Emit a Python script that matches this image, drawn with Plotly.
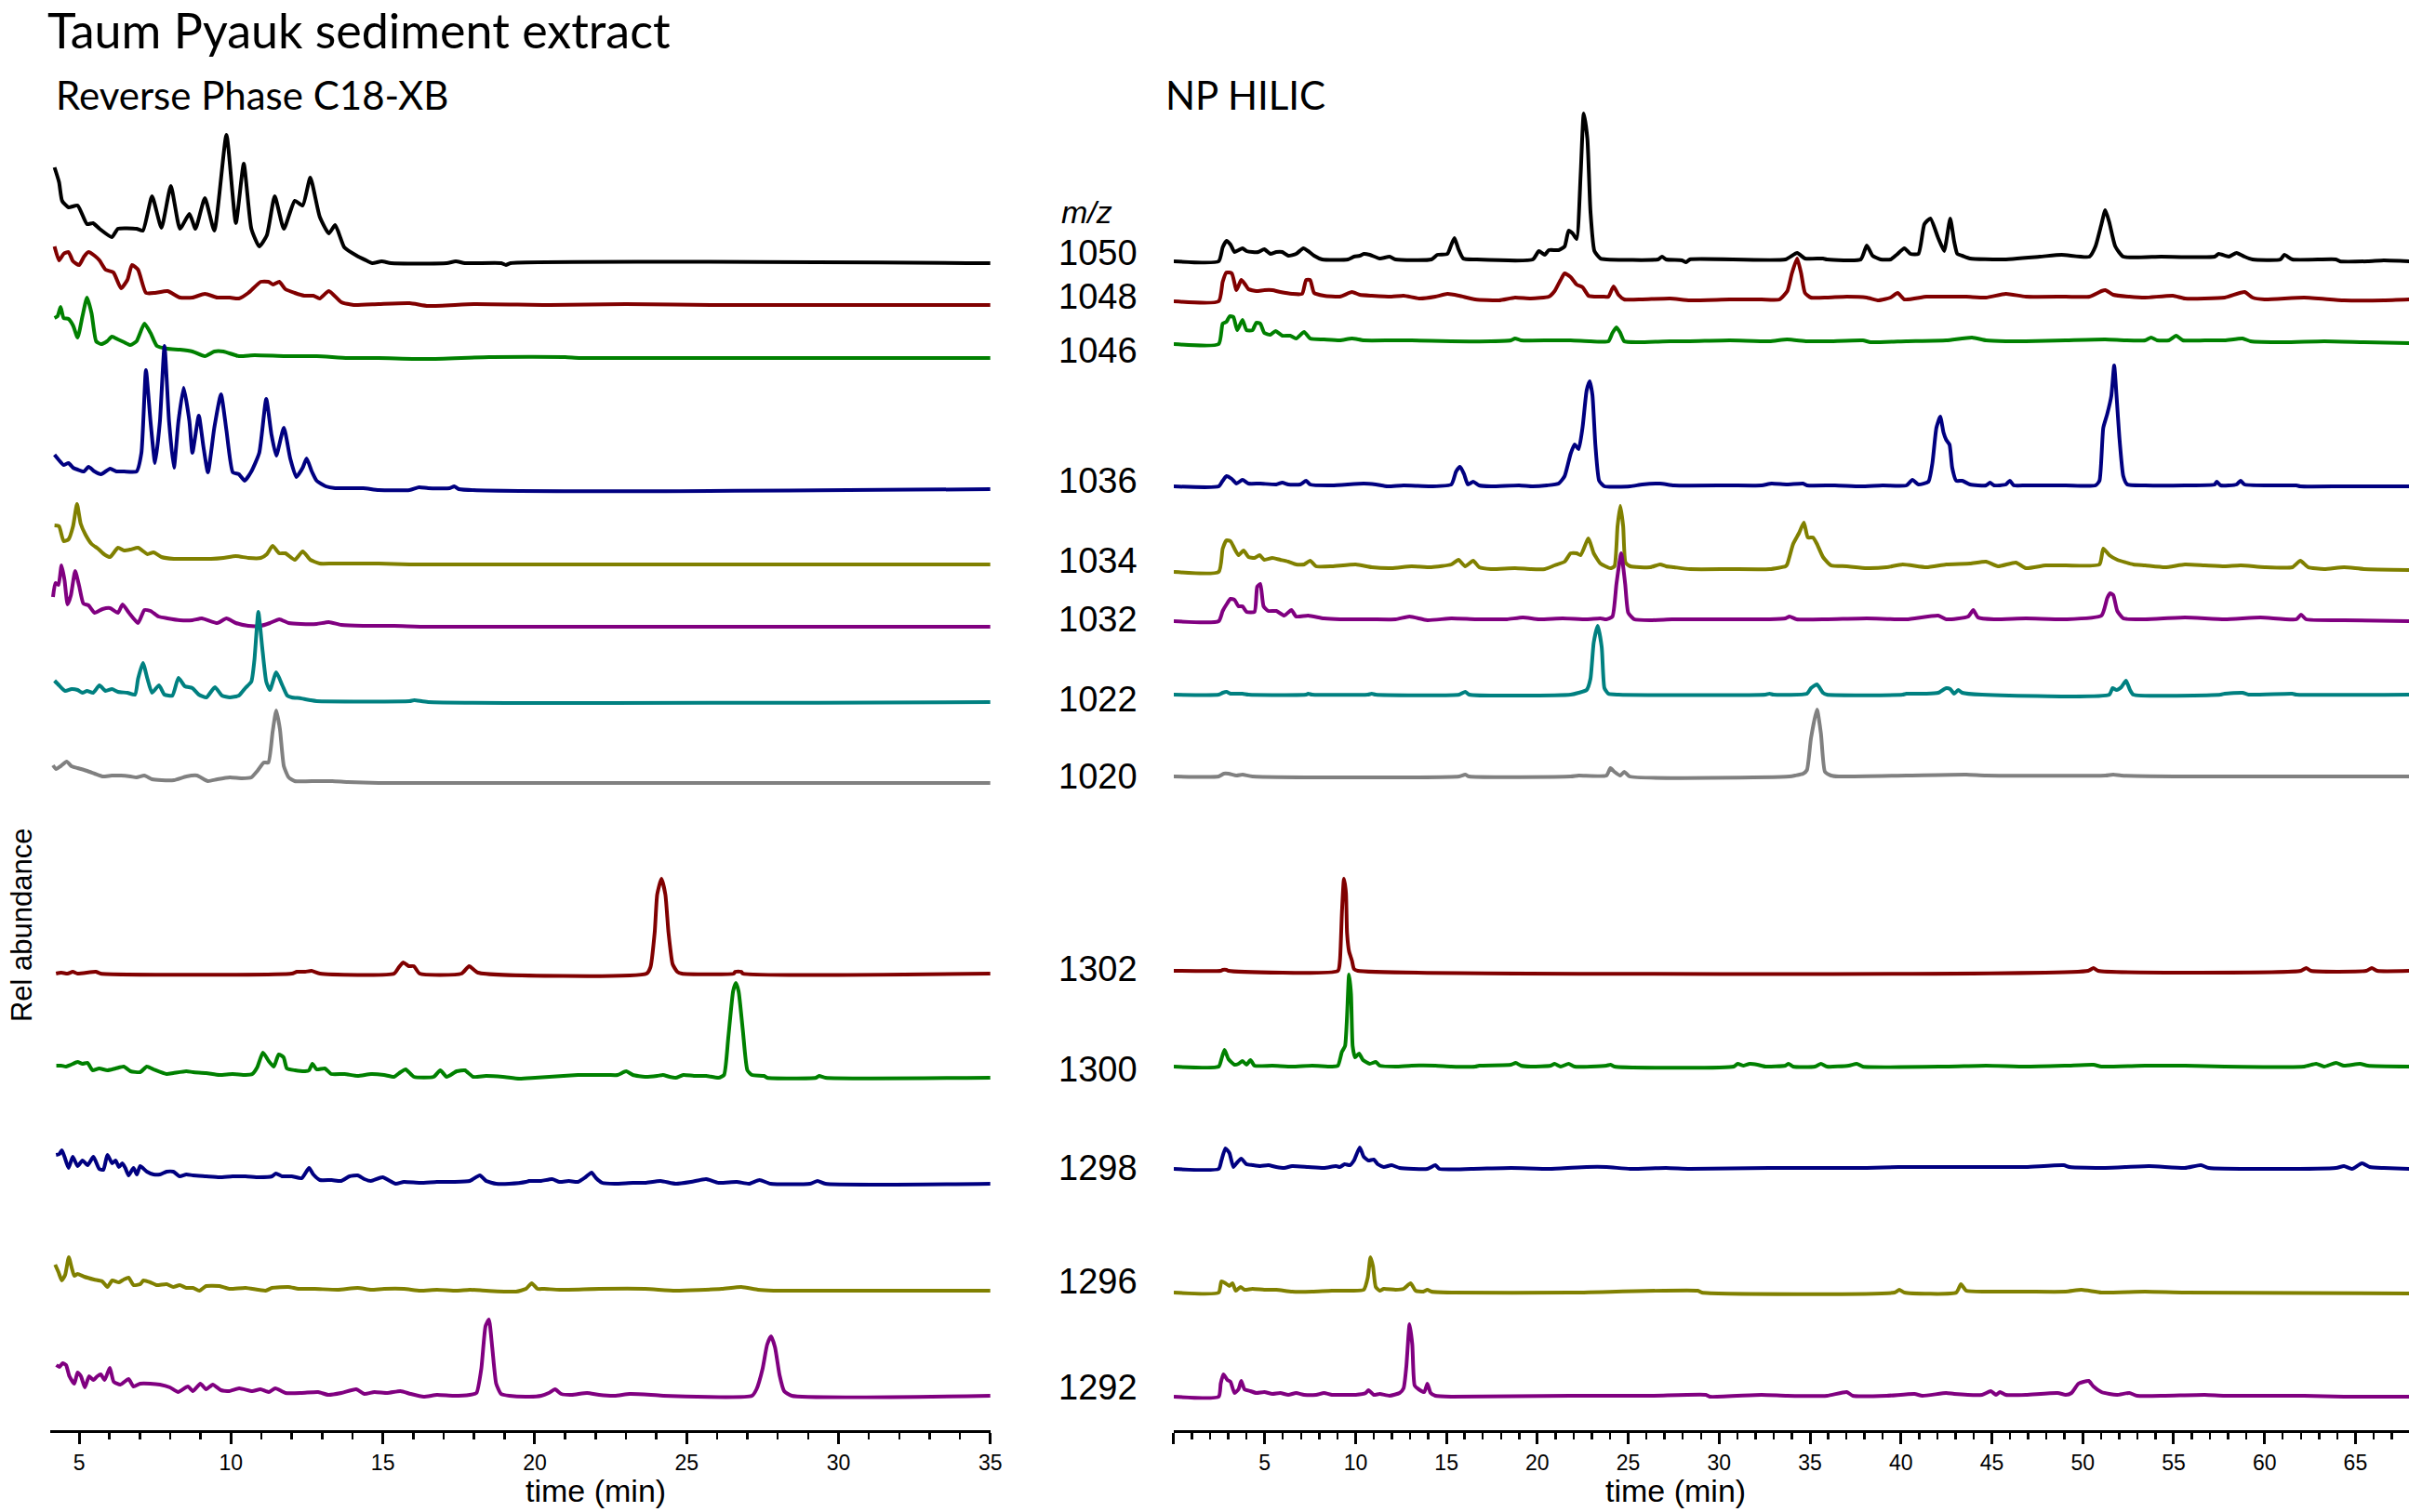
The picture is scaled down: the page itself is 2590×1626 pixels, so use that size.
import plotly.graph_objects as go

# ---------------- data: (time [min], intensity) ----------------
RP_1050 = [(4.19,103),(4.34,87),(4.44,67),(4.65,60),(4.95,62),(5.26,42),(5.46,43),(5.67,37),(6.08,28),(6.28,37),(6.89,37),(7.10,35),(7.40,72),(7.71,38),(8.02,83),(8.32,37),(8.63,53),(8.83,37),(9.14,70),(9.45,35),(9.85,138),(10.16,43),(10.42,107),(10.67,37),(10.93,18),(11.18,30),(11.44,72),(11.74,37),(12.10,67),(12.36,62),(12.61,92),(12.92,50),(13.22,32),(13.43,41),(13.73,17),(14.14,8),(14.45,3),(14.65,0),(14.96,2),(15.27,0),(17.1,0),(17.4,2),(17.7,0),(18.9,0),(19.05,-2),(19.2,0),(35.0,0)]
RP_1048 = [(4.19,63),(4.34,48),(4.49,55),(4.65,57),(4.80,47),(5.00,43),(5.16,52),(5.31,57),(5.51,53),(5.67,48),(5.87,38),(6.13,35),(6.38,18),(6.59,27),(6.74,43),(6.94,38),(7.20,13),(7.50,13),(7.91,15),(8.32,8),(8.73,8),(9.14,12),(9.55,8),(9.96,8),(10.26,7),(10.57,13),(10.98,25),(11.23,25),(11.39,22),(11.59,25),(11.79,17),(12.10,13),(12.41,10),(12.71,10),(12.92,7),(13.22,15),(13.63,3),(14.04,0),(14.86,1),(15.88,2),(16.49,-1),(18.0,1),(20.5,0),(23.0,1),(26.0,0),(35.0,0)]
RP_1046 = [(4.19,43),(4.29,45),(4.39,55),(4.49,43),(4.65,42),(4.80,35),(4.95,22),(5.11,45),(5.26,65),(5.41,48),(5.56,18),(5.72,15),(5.92,18),(6.08,23),(6.28,20),(6.48,17),(6.69,14),(6.89,18),(7.15,37),(7.35,27),(7.56,13),(7.91,10),(8.32,9),(8.73,7),(9.14,2),(9.45,7),(9.75,7),(10.26,2),(10.77,3),(11.79,2),(12.82,2),(13.84,0),(14.86,0),(16.49,-1),(18.5,1),(21.0,1),(21.5,0),(35.0,0)]
RP_1036 = [(4.19,37),(4.34,31),(4.49,26),(4.65,28),(4.80,23),(4.95,21),(5.16,19),(5.31,24),(5.51,19),(5.72,16),(6.02,22),(6.23,19),(6.48,19),(6.89,19),(7.05,39),(7.20,128),(7.35,73),(7.50,28),(7.66,73),(7.81,154),(7.96,73),(8.12,23),(8.27,73),(8.44,109),(8.63,73),(8.73,39),(8.94,79),(9.09,46),(9.24,18),(9.45,66),(9.67,102),(9.85,63),(10.06,18),(10.26,16),(10.45,9),(10.67,19),(10.93,39),(11.16,97),(11.33,59),(11.49,36),(11.74,66),(11.95,33),(12.15,13),(12.36,23),(12.49,33),(12.66,19),(12.82,9),(13.12,3),(13.43,1),(14.35,1),(14.86,-1),(15.88,-1),(16.19,2),(16.49,1),(17.2,1),(17.35,3),(17.5,0),(35.0,0)]
RP_1034 = [(4.19,42),(4.34,41),(4.49,25),(4.65,27),(4.80,41),(4.93,65),(5.05,44),(5.21,32),(5.41,22),(5.62,17),(5.82,11),(6.02,8),(6.28,18),(6.48,15),(6.69,16),(6.94,18),(7.25,11),(7.45,13),(7.71,8),(8.12,6),(8.53,6),(8.94,6),(9.34,6),(9.75,7),(10.16,9),(10.57,7),(10.98,7),(11.18,11),(11.37,20),(11.59,12),(11.79,12),(12.10,5),(12.36,14),(12.61,5),(12.92,1),(13.33,1),(13.84,1),(14.86,1),(15.88,0),(16.49,0),(35.0,0)]
RP_1032 = [(4.14,31),(4.22,46),(4.32,44),(4.42,65),(4.52,49),(4.62,23),(4.73,33),(4.87,59),(5.00,43),(5.14,24),(5.31,22),(5.51,14),(5.77,18),(6.02,19),(6.28,14),(6.43,23),(6.64,14),(6.94,3),(7.15,17),(7.35,16),(7.61,10),(7.91,8),(8.32,6),(8.73,6),(9.04,8),(9.55,3),(9.85,8),(10.16,3),(10.57,0),(10.98,0),(11.28,3),(11.59,7),(11.90,3),(12.30,2),(12.82,2),(13.22,4),(13.63,1),(14.35,0),(15.37,0),(16.49,-1),(35.0,-1)]
RP_1022 = [(4.19,22),(4.34,17),(4.54,11),(4.75,13),(4.95,12),(5.11,9),(5.26,11),(5.46,9),(5.67,17),(5.87,11),(6.08,13),(6.28,10),(6.59,9),(6.84,7),(6.94,24),(7.10,41),(7.25,24),(7.40,9),(7.63,17),(7.81,7),(8.07,6),(8.27,25),(8.48,16),(8.73,14),(8.94,7),(9.19,4),(9.47,15),(9.70,6),(9.96,4),(10.26,6),(10.47,14),(10.67,21),(10.77,44),(10.90,96),(11.03,57),(11.16,21),(11.28,12),(11.49,31),(11.69,17),(11.85,6),(12.00,4),(12.30,3),(12.61,1),(12.82,0),(15.88,0),(16.03,1),(16.49,-1),(35.0,-1)]
RP_1020 = [(4.14,18),(4.24,14),(4.39,17),(4.59,22),(4.75,17),(4.95,15),(5.26,12),(5.51,9),(5.77,6),(6.08,7),(6.38,7),(6.69,6),(6.89,5),(7.15,7),(7.40,3),(7.71,2),(8.12,2),(8.53,6),(8.88,7),(9.24,1),(9.55,3),(9.96,5),(10.36,4),(10.67,5),(10.87,12),(11.08,21),(11.23,21),(11.37,54),(11.49,77),(11.61,57),(11.74,17),(11.90,5),(12.10,1),(12.82,1),(13.33,1),(13.84,0),(14.86,-1),(35.0,-1)]
RP_1302 = [(4.24,0),(4.41,1),(4.62,0),(4.79,2),(4.95,0),(5.55,2),(5.71,0),(12.0,0),(12.17,2),(12.44,2),(12.65,3),(12.93,0),(15.37,0),(15.53,7),(15.67,12),(15.85,8),(16.02,8),(16.21,0),(17.59,0),(17.84,8),(18.13,1),(23.68,0),(23.81,7),(23.95,45),(24.03,85),(24.17,102),(24.30,85),(24.40,45),(24.54,10),(24.69,2),(24.84,0),(26.55,0),(26.60,2),(26.80,2),(26.85,0),(35.0,0)]
RP_1300 = [(4.25,13),(4.41,13),(4.57,12),(4.73,14),(4.95,17),(5.11,15),(5.28,16),(5.44,8),(5.66,10),(5.93,8),(6.20,10),(6.47,12),(6.69,7),(7.01,6),(7.23,12),(7.45,9),(7.88,4),(8.10,5),(8.53,7),(8.75,6),(9.18,5),(9.62,3),(10.05,4),(10.48,3),(10.70,4),(10.86,11),(11.05,27),(11.24,18),(11.41,12),(11.57,25),(11.73,22),(11.84,10),(12.11,8),(12.44,7),(12.57,8),(12.68,15),(12.82,9),(13.09,10),(13.30,4),(13.74,4),(14.17,2),(14.61,4),(15.04,3),(15.37,1),(15.58,6),(15.75,9),(16.02,1),(16.67,1),(16.89,8),(17.10,1),(17.43,7),(17.70,8),(17.97,1),(18.40,2),(18.95,1),(19.49,-1),(20.01,0),(21.42,3),(21.62,3),(22.02,3),(22.43,3),(22.73,3),(23.01,7),(23.23,3),(23.63,1),(24.03,2),(24.22,3),(24.44,1),(24.64,0),(24.89,3),(25.24,2),(25.64,2),(26.05,0),(26.23,3),(26.37,43),(26.53,93),(26.62,102),(26.71,93),(26.85,51),(27.00,8),(27.15,3),(27.55,2),(27.65,0),(29.26,0),(29.36,2),(29.57,0),(35.0,0)]
RP_1298 = [(4.24,31),(4.35,32),(4.43,36),(4.52,29),(4.65,17),(4.79,29),(4.95,19),(5.11,25),(5.28,20),(5.47,29),(5.66,16),(5.80,15),(5.93,31),(6.09,22),(6.20,25),(6.31,18),(6.42,22),(6.52,17),(6.63,9),(6.79,17),(6.90,10),(7.01,19),(7.23,13),(7.45,10),(7.66,10),(7.88,13),(8.10,13),(8.31,8),(8.53,10),(8.75,9),(9.18,8),(9.62,7),(10.05,8),(10.48,8),(10.92,7),(11.35,8),(11.48,11),(11.68,8),(12.00,8),(12.33,6),(12.57,17),(12.71,10),(12.93,4),(13.31,4),(13.63,3),(13.90,8),(14.17,9),(14.39,5),(14.61,3),(14.99,7),(15.42,0),(15.69,2),(16.23,1),(16.78,2),(17.32,2),(17.86,3),(18.19,9),(18.40,3),(18.73,0),(19.16,0),(19.71,2),(19.81,3),(20.21,3),(20.57,5),(20.82,2),(21.12,3),(21.42,2),(21.67,7),(21.87,12),(22.02,6),(22.22,1),(22.63,0),(23.23,1),(23.63,1),(24.14,3),(24.64,0),(25.14,2),(25.64,5),(26.05,1),(26.65,2),(27.05,0),(27.40,4),(27.76,0),(29.06,0),(29.31,3),(29.57,0),(35.0,0)]
RP_1296 = [(4.21,28),(4.32,20),(4.43,11),(4.54,17),(4.66,36),(4.76,24),(4.84,16),(4.95,18),(5.17,15),(5.49,12),(5.76,10),(5.93,4),(6.09,11),(6.31,9),(6.47,12),(6.63,14),(6.79,6),(7.01,7),(7.12,11),(7.34,9),(7.55,6),(7.88,7),(8.10,4),(8.31,6),(8.53,3),(8.75,3),(8.96,0),(9.18,5),(9.62,5),(9.94,2),(10.48,3),(11.14,0),(11.35,3),(11.89,4),(12.22,2),(12.76,2),(13.52,1),(14.17,3),(14.61,1),(15.04,2),(15.69,2),(16.23,0),(16.78,1),(17.43,0),(17.86,1),(18.40,0),(19.38,-1),(19.71,2),(19.90,8),(20.09,2),(20.31,2),(20.82,1),(22.12,2),(23.63,2),(24.64,0),(26.15,2),(26.80,4),(27.35,1),(27.86,0),(35.0,0)]
RP_1292 = [(4.25,33),(4.35,31),(4.46,35),(4.57,33),(4.68,21),(4.84,13),(4.95,25),(5.06,21),(5.19,9),(5.33,21),(5.47,17),(5.60,21),(5.71,23),(5.84,17),(6.01,30),(6.14,15),(6.36,12),(6.63,18),(6.79,10),(7.01,13),(7.34,13),(7.66,12),(7.99,9),(8.26,4),(8.58,10),(8.75,5),(8.99,13),(9.18,7),(9.40,12),(9.67,6),(9.94,5),(10.27,8),(10.70,5),(10.97,7),(11.24,4),(11.46,8),(11.79,3),(12.33,3),(12.87,4),(13.20,1),(13.63,3),(14.12,7),(14.39,2),(14.72,4),(15.15,3),(15.58,5),(15.91,2),(16.34,-1),(16.78,1),(17.32,0),(17.86,1),(18.08,3),(18.24,29),(18.38,75),(18.49,82),(18.60,52),(18.73,13),(18.89,2),(19.16,0),(19.81,-1),(20.21,0),(20.46,3),(20.67,7),(20.87,2),(21.22,1),(21.72,3),(22.12,1),(22.63,0),(23.13,2),(23.83,1),(24.24,0),(27.15,0),(27.30,7),(27.50,29),(27.65,55),(27.78,64),(27.91,52),(28.06,22),(28.21,5),(28.46,0),(35.0,0)]

NP_1050 = [(0,-2),(2.47,-2),(2.69,13),(2.90,20),(3.12,16),(3.34,8),(3.56,10),(3.78,12),(4.00,9),(4.33,8),(4.65,8),(4.98,11),(5.31,6),(5.64,8),(5.97,8),(6.30,4),(6.73,6),(7.13,12),(7.39,9),(7.72,4),(8.16,0),(9.58,0),(9.91,3),(10.23,4),(10.45,6),(10.78,5),(11.33,1),(11.87,3),(12.20,0),(14.17,0),(14.50,5),(15.05,6),(15.27,16),(15.44,23),(15.66,11),(15.92,1),(16.58,0),(19.75,0),(20.08,9),(20.41,5),(20.63,10),(21.17,10),(21.50,14),(21.72,31),(21.94,28),(22.16,22),(22.38,91),(22.55,157),(22.75,130),(22.92,52),(23.14,9),(23.47,1),(23.80,0),(26.64,0),(26.86,3),(27.08,0),(27.96,-1),(28.18,-3),(28.39,0),(33.65,0),(34.29,7),(34.72,1),(35.71,1),(35.93,0),(37.79,0),(38.12,15),(38.44,4),(38.88,0),(39.43,0),(39.76,5),(40.19,12),(40.52,6),(40.96,6),(41.29,38),(41.62,44),(42.05,23),(42.38,9),(42.49,19),(42.71,44),(42.93,19),(43.10,6),(43.37,4),(43.80,1),(45.56,0),(47.63,3),(48.84,5),(50.37,3),(50.70,14),(51.03,38),(51.24,53),(51.46,40),(51.79,14),(52.23,3),(54.31,3),(57.26,3),(57.48,6),(58.03,3),(58.46,7),(58.90,3),(59.34,0),(60.87,0),(61.09,5),(61.53,0),(63.93,0),(64.15,-2),(65.68,-2),(66.56,-1),(68.05,-2)]
NP_1048 = [(0,0),(2.47,0),(2.69,21),(2.90,31),(3.19,30),(3.45,12),(3.71,23),(3.93,18),(4.11,13),(4.54,11),(4.98,12),(5.42,12),(5.86,10),(6.51,8),(7.06,8),(7.28,23),(7.50,23),(7.72,9),(8.26,6),(9.14,5),(9.80,10),(10.23,7),(10.89,6),(11.98,5),(12.64,6),(13.52,3),(14.39,5),(15.05,8),(15.70,6),(16.58,2),(17.89,1),(18.77,4),(19.64,3),(20.63,5),(20.95,11),(21.28,23),(21.50,30),(21.83,26),(22.16,18),(22.49,15),(22.81,6),(23.14,5),(23.58,5),(23.91,5),(24.19,16),(24.46,7),(24.78,2),(25.77,2),(27.30,3),(28.39,1),(30.58,2),(32.33,2),(33.32,2),(33.75,11),(34.00,30),(34.29,46),(34.51,30),(34.72,9),(35.05,4),(35.93,4),(37.02,5),(38.12,4),(38.77,1),(39.43,4),(39.82,9),(40.19,2),(41.40,5),(42.49,5),(43.59,5),(44.68,4),(45.77,8),(46.87,5),(49.06,5),(50.37,5),(51.03,11),(51.24,12),(51.68,7),(52.56,5),(53.43,4),(54.96,6),(55.62,3),(57.81,4),(58.90,10),(59.34,4),(60.00,2),(62.18,4),(64.37,1),(66.56,1),(68.05,2)]
NP_1046 = [(0,0),(2.47,0),(2.69,22),(2.90,24),(3.08,30),(3.28,29),(3.49,15),(3.78,26),(4.00,15),(4.33,15),(4.54,23),(4.76,22),(4.98,12),(5.31,10),(5.60,14),(5.97,9),(6.40,9),(6.73,6),(7.17,13),(7.50,6),(8.26,5),(9.14,4),(9.80,6),(10.45,4),(11.98,4),(13.08,4),(15.27,3),(17.45,3),(18.55,4),(18.77,6),(19.10,4),(20.74,4),(21.83,4),(22.92,3),(23.91,3),(24.13,12),(24.35,18),(24.56,12),(24.78,3),(25.55,2),(27.30,3),(28.39,3),(30.58,4),(32.77,3),(33.74,5),(34.83,3),(35.93,3),(37.90,4),(38.33,2),(40.30,3),(42.49,4),(43.91,7),(44.68,4),(45.77,3),(46.87,3),(49.06,4),(51.24,5),(52.34,4),(53.43,4),(53.76,7),(54.09,4),(54.74,4),(55.14,9),(55.51,4),(56.71,4),(57.81,4),(58.79,6),(59.23,3),(61.09,2),(63.28,3),(65.47,2),(68.05,1)]
NP_1036 = [(0,0),(2.47,0),(2.69,6),(2.90,11),(3.19,8),(3.45,3),(3.78,7),(4.11,3),(4.76,3),(5.64,2),(5.97,4),(6.30,2),(6.95,2),(7.28,6),(7.50,2),(8.70,1),(10.45,3),(11.11,2),(11.76,0),(12.64,1),(14.17,0),(15.27,2),(15.53,16),(15.75,21),(15.97,13),(16.18,2),(16.47,5),(16.80,1),(17.45,0),(18.99,1),(19.75,0),(20.52,1),(21.17,3),(21.50,11),(21.83,35),(22.05,45),(22.27,40),(22.49,64),(22.71,103),(22.88,113),(23.03,98),(23.19,45),(23.40,6),(23.69,0),(25.11,0),(25.77,2),(26.75,3),(27.52,1),(30.58,1),(32.33,1),(32.88,3),(33.74,2),(34.62,3),(34.83,1),(36.37,1),(37.79,0),(38.99,1),(40.30,1),(40.63,7),(40.96,2),(41.51,5),(41.73,25),(41.95,63),(42.16,75),(42.34,58),(42.49,50),(42.67,45),(42.82,20),(43.04,6),(43.37,6),(43.80,2),(44.68,1),(44.90,4),(45.12,1),(45.77,2),(45.99,6),(46.21,1),(46.87,1),(49.06,1),(50.70,1),(50.92,6),(51.13,63),(51.35,78),(51.57,97),(51.73,130),(51.86,97),(52.01,54),(52.23,11),(52.45,2),(53.43,1),(55.62,1),(57.26,2),(57.37,5),(57.59,1),(58.46,2),(58.68,6),(58.90,2),(60.21,1),(61.75,1),(61.97,0),(64.37,0),(68.05,0)]
NP_1034 = [(0,0),(2.47,0),(2.69,25),(2.90,34),(3.12,33),(3.34,25),(3.56,18),(3.84,23),(4.11,16),(4.44,15),(4.72,18),(4.98,13),(5.42,15),(5.86,13),(6.30,11),(6.73,8),(7.17,8),(7.50,12),(7.83,6),(8.70,6),(10.01,8),(10.89,5),(11.98,4),(13.08,6),(14.17,5),(15.27,8),(15.66,13),(16.03,6),(16.47,12),(16.80,5),(17.45,3),(18.77,4),(19.64,3),(20.41,3),(20.95,7),(21.50,11),(21.83,20),(22.16,20),(22.38,18),(22.81,36),(23.10,20),(23.47,9),(24.02,4),(24.24,6),(24.41,49),(24.56,71),(24.72,49),(24.85,10),(25.11,6),(26.21,5),(26.75,8),(27.08,6),(27.52,5),(28.39,3),(30.58,3),(32.77,3),(33.65,6),(33.74,8),(34.07,30),(34.40,42),(34.66,53),(34.88,37),(35.16,37),(35.38,30),(35.71,16),(36.15,7),(37.02,6),(38.12,4),(39.21,5),(40.09,8),(41.40,5),(42.49,8),(43.80,9),(44.68,11),(45.34,6),(46.32,10),(46.87,4),(47.96,7),(49.06,7),(50.92,8),(51.13,25),(51.46,18),(51.90,13),(52.78,8),(53.43,7),(54.53,5),(55.62,8),(56.71,7),(57.81,6),(58.69,7),(60.00,5),(61.53,5),(61.97,12),(62.40,5),(63.28,3),(64.37,5),(65.47,3),(68.05,2)]
NP_1032 = [(0,0),(2.47,0),(2.69,11),(2.90,18),(3.12,24),(3.34,23),(3.56,16),(3.78,16),(4.00,10),(4.44,10),(4.59,37),(4.76,40),(4.94,16),(5.20,11),(5.64,11),(6.08,6),(6.47,12),(6.73,5),(7.39,6),(8.26,3),(9.14,2),(10.01,2),(10.89,2),(12.20,2),(12.97,5),(13.95,1),(15.27,3),(16.58,2),(17.45,2),(18.33,2),(19.20,4),(20.08,2),(21.39,3),(22.71,2),(23.47,3),(23.80,2),(24.13,5),(24.35,40),(24.61,73),(24.83,40),(25.00,9),(25.33,2),(26.21,1),(27.41,2),(28.39,2),(30.58,2),(32.77,2),(33.65,3),(33.87,5),(34.26,2),(35.93,2),(38.12,3),(40.30,2),(42.05,6),(42.49,2),(43.70,5),(43.98,12),(44.24,4),(45.12,2),(46.87,3),(49.06,2),(51.03,6),(51.35,25),(51.51,30),(51.68,28),(51.90,11),(52.23,3),(53.43,2),(55.62,4),(57.81,2),(59.78,4),(61.75,2),(62.01,7),(62.29,2),(64.37,1),(68.05,0)]
NP_1022 = [(0,0),(2.47,0),(2.69,2),(2.90,3),(3.12,1),(3.78,1),(4.11,0),(7.28,0),(7.39,1),(7.61,0),(10.67,0),(10.89,1),(11.11,0),(15.70,0),(16.03,3),(16.25,0),(21.83,0),(22.27,2),(22.71,5),(22.92,17),(23.10,56),(23.32,74),(23.54,51),(23.69,7),(23.91,1),(24.46,0),(32.55,0),(32.77,1),(32.99,0),(34.83,1),(35.05,7),(35.38,11),(35.71,2),(35.93,0),(40.09,0),(40.30,1),(41.40,1),(42.05,2),(42.49,7),(42.71,6),(42.93,1),(43.15,5),(43.37,2),(44.46,0),(51.46,0),(51.64,7),(51.86,5),(52.12,8),(52.38,15),(52.60,5),(52.78,0),(57.59,0),(57.81,1),(58.79,2),(59.12,0),(61.53,1),(61.75,0),(68.05,0)]
NP_1020 = [(0,0),(2.47,0),(2.75,3),(3.01,3),(3.45,1),(3.78,2),(4.33,0),(15.70,0),(16.03,2),(16.25,0),(21.83,0),(22.27,1),(23.80,1),(24.02,9),(24.24,5),(24.56,1),(24.78,5),(25.07,0),(33.87,0),(34.18,1),(34.62,3),(34.83,7),(35.05,41),(35.38,72),(35.60,46),(35.82,5),(36.15,1),(36.58,0),(40.30,1),(43.59,2),(44.68,1),(51.24,1),(51.68,2),(52.12,1),(55.62,0),(68.05,0)]
NP_1302 = [(0,0),(2.58,0),(2.69,1),(2.90,1),(3.01,0),(9.03,0),(9.14,11),(9.25,63),(9.36,99),(9.47,84),(9.53,41),(9.64,21),(9.80,11),(9.91,2),(10.12,0),(50.3,0),(50.59,3),(50.85,0),(62.0,0),(62.29,3),(62.55,0),(65.6,0),(65.9,3),(66.2,0),(68.05,0)]
NP_1300 = [(0,0),(2.47,0),(2.62,8),(2.79,18),(3.01,8),(3.34,2),(3.56,3),(3.78,6),(4.00,2),(4.22,7),(4.44,1),(5.42,1),(6.51,0),(7.61,1),(8.70,0),(9.03,1),(9.25,16),(9.42,22),(9.53,54),(9.64,99),(9.75,78),(9.84,22),(9.97,10),(10.19,14),(10.41,7),(10.78,3),(11.11,5),(11.33,1),(12.20,0),(13.08,1),(14.39,1),(15.27,0),(16.58,0),(16.80,1),(18.55,2),(18.81,4),(19.10,1),(19.64,0),(20.74,1),(20.95,3),(21.28,0),(21.72,3),(22.05,0),(23.80,1),(24.02,2),(24.24,0),(30.80,0),(31.02,3),(31.35,1),(31.68,3),(32.11,2),(32.55,0),(33.65,1),(33.82,3),(34.07,0),(35.27,0),(35.60,3),(35.93,0),(37.13,1),(37.57,3),(37.90,0),(42.49,0),(44.68,1),(46.87,0),(49.06,1),(50.59,2),(51.03,0),(53.43,1),(55.62,1),(57.81,0),(62.18,0),(62.84,3),(63.28,0),(63.93,4),(64.37,1),(65.25,3),(65.68,1),(68.05,0)]
NP_1298 = [(0,0),(2.47,0),(2.62,9),(2.84,22),(3.06,17),(3.28,2),(3.49,7),(3.71,11),(4.00,5),(4.33,4),(4.76,3),(5.20,4),(5.64,2),(6.08,1),(6.51,3),(7.39,2),(8.26,1),(8.92,3),(9.14,2),(9.40,5),(9.69,4),(9.91,9),(10.23,23),(10.45,13),(10.71,9),(11.00,10),(11.22,5),(11.55,2),(11.98,4),(12.42,1),(13.95,0),(14.39,4),(14.61,0),(16.36,0),(18.55,1),(20.74,0),(22.71,2),(23.80,2),(25.11,0),(27.08,1),(28.39,0),(32.77,1),(33.74,1),(35.93,1),(38.12,1),(39.87,2),(42.49,2),(44.68,2),(46.87,2),(48.95,4),(49.27,2),(51.24,1),(53.65,3),(55.62,1),(56.50,4),(56.93,1),(60.00,0),(63.93,1),(64.37,3),(64.81,0),(65.36,6),(65.79,2),(66.56,1),(68.05,0)]
NP_1296 = [(0,0),(2.47,0),(2.62,12),(2.84,10),(3.06,7),(3.23,10),(3.41,2),(3.67,6),(3.89,3),(4.33,4),(4.98,3),(5.64,3),(6.51,1),(7.61,1),(8.70,2),(9.80,2),(10.45,3),(10.67,16),(10.82,38),(10.96,28),(11.11,6),(11.33,2),(11.55,4),(12.20,3),(12.64,4),(13.03,10),(13.30,2),(13.73,1),(13.95,3),(14.17,1),(15.27,0),(21.83,0),(28.83,2),(29.05,0),(39.65,0),(39.91,3),(40.19,0),(43.04,0),(43.30,9),(43.59,2),(44.68,1),(46.87,1),(49.06,1),(49.93,3),(51.03,0),(53.43,1),(55.62,0),(68.05,-1)]
NP_1292 = [(0,0),(2.47,0),(2.58,14),(2.73,24),(2.95,18),(3.12,16),(3.34,4),(3.56,8),(3.71,17),(3.89,8),(4.22,6),(4.54,4),(4.98,5),(5.42,3),(5.86,4),(6.30,2),(6.73,4),(7.17,2),(7.83,2),(8.26,4),(8.70,2),(9.14,2),(10.01,2),(10.56,4),(10.71,7),(11.00,2),(11.33,3),(11.87,1),(12.42,4),(12.64,9),(12.79,32),(12.97,78),(13.12,56),(13.25,12),(13.47,8),(13.78,5),(13.95,14),(14.13,4),(14.39,1),(15.27,0),(21.83,1),(26.21,1),(29.27,2),(29.49,0),(32.33,2),(33.74,1),(35.93,1),(37.02,5),(37.35,1),(39.21,1),(40.74,3),(41.18,1),(42.49,4),(42.93,3),(44.46,2),(44.94,6),(45.23,2),(45.45,5),(45.77,2),(46.87,2),(48.62,4),(49.06,2),(49.38,4),(49.76,14),(50.04,16),(50.33,17),(50.59,11),(51.03,5),(51.46,3),(51.90,2),(52.56,4),(52.99,1),(54.53,1),(56.71,2),(57.81,1),(62.18,1),(64.37,0),(68.05,0)]

MZ_LABELS = ["1050", "1048", "1046", "1036", "1034", "1032", "1022", "1020",
             "1302", "1300", "1298", "1296", "1292"]
RP_SERIES = [RP_1050, RP_1048, RP_1046, RP_1036, RP_1034, RP_1032, RP_1022, RP_1020,
             RP_1302, RP_1300, RP_1298, RP_1296, RP_1292]
NP_SERIES = [NP_1050, NP_1048, NP_1046, NP_1036, NP_1034, NP_1032, NP_1022, NP_1020,
             NP_1302, NP_1300, NP_1298, NP_1296, NP_1292]
LEFT_TICKS = [5, 10, 15, 20, 25, 30, 35]
RIGHT_TICKS = [0, 5, 10, 15, 20, 25, 30, 35, 40, 45, 50, 55, 60, 65]

# ---------------- layout / styling ----------------
W, H = 2590, 1626          # reference frame (positions below are in this frame)
FIG_W = 2605               # figure width; the capture maps the page width onto the 2590 frame
COLORS = ["#000000", "#800000", "#008000", "#000080", "#808000", "#800080", "#008080", "#808080",
          "#800000", "#008000", "#000080", "#808000", "#800080"]
# baseline pixel rows of each trace (px from top)
LEFT_BASE = [283, 328, 385, 526, 607, 673, 754, 841, 1047, 1159, 1273, 1388, 1501]
RIGHT_BASE = [279, 324, 370, 523, 615, 668, 747, 835, 1044, 1147, 1257, 1390, 1502]
LABEL_Y = [272, 319, 377, 517, 603, 666, 752, 835, 1042, 1150, 1256, 1378, 1492]
LO, HI = 40, 200
AXIS_Y = 1539
LEFT_DOM = (54, 1064)
RIGHT_DOM = (1261, W)
RIGHT_PX_PER_MIN = 19.53
RIGHT_RANGE = [0, (RIGHT_DOM[1] - RIGHT_DOM[0]) / RIGHT_PX_PER_MIN]

NARROW = "Liberation Sans Narrow, Arial Narrow, Liberation Sans, Arial, sans-serif"
SANS = "Liberation Sans, Arial, sans-serif"
TITLEF = "Lato, Carlito, Calibri, sans-serif"

def px(x):
    return x / W

def py(y):
    return 1 - y / H

fig = go.Figure()
layout = dict(
    width=FIG_W, height=H, margin=dict(l=0, r=0, t=0, b=0),
    paper_bgcolor="white", plot_bgcolor="rgba(0,0,0,0)", showlegend=False,
)

axis_common = dict(
    anchor="free", position=py(AXIS_Y), showline=True, linecolor="black", linewidth=3,
    ticks="outside", ticklen=12, tickwidth=3, tickcolor="black", showgrid=False, zeroline=False,
    tickfont=dict(family=NARROW, size=23, color="black"), fixedrange=True,
    minor=dict(ticks="outside", tickmode="linear", tick0=0, dtick=1, ticklen=7, tickwidth=2.5,
               tickcolor="black", showgrid=False),
)
layout["xaxis"] = dict(axis_common, domain=[px(LEFT_DOM[0]), px(LEFT_DOM[1])], range=[4.05, 35.0],
                       tickmode="array", tickvals=LEFT_TICKS, ticktext=[str(v) for v in LEFT_TICKS])
layout["xaxis2"] = dict(axis_common, domain=[px(RIGHT_DOM[0]), px(RIGHT_DOM[1])], range=RIGHT_RANGE,
                        tickmode="array", tickvals=RIGHT_TICKS,
                        ticktext=["" if v == 0 else str(v) for v in RIGHT_TICKS])

n = 0
for series, bases, xa in [(RP_SERIES, LEFT_BASE, "x"), (NP_SERIES, RIGHT_BASE, "x2")]:
    for i, pts in enumerate(series):
        n += 1
        yname = "yaxis" if n == 1 else f"yaxis{n}"
        yref = "y" if n == 1 else f"y{n}"
        b = bases[i]
        layout[yname] = dict(domain=[max(0, py(b + LO)), min(1, py(b - HI))], range=[-LO, HI],
                             anchor=xa, visible=False, fixedrange=True)
        fig.add_trace(go.Scatter(
            x=[p[0] for p in pts], y=[p[1] for p in pts], mode="lines",
            line=dict(color=COLORS[i], width=4, shape="spline", smoothing=0.5),
            xaxis=xa, yaxis=yref, hoverinfo="skip", name=MZ_LABELS[i]))

ann = []
ann.append(dict(text="Taum Pyauk sediment extract", x=px(50), y=1.0, xanchor="left", yanchor="top",
                borderpad=0, font=dict(family=TITLEF, size=52, color="black")))
ann.append(dict(text="Reverse Phase C18-XB", x=px(58), y=py(102), xanchor="left", yanchor="middle",
                font=dict(family=TITLEF, size=42, color="black")))
ann.append(dict(text="NP HILIC", x=px(1250), y=py(102), xanchor="left", yanchor="middle",
                font=dict(family=TITLEF, size=42, color="black")))
ann.append(dict(text="<i>m/z</i>", x=px(1168), y=py(228), xanchor="center", yanchor="middle",
                font=dict(family=SANS, size=34, color="black")))
for lab, ly in zip(MZ_LABELS, LABEL_Y):
    ann.append(dict(text=lab, x=px(1180), y=py(ly), xanchor="center", yanchor="middle",
                    font=dict(family=NARROW, size=38, color="black")))
ann.append(dict(text="Rel abundance", x=px(23), y=py(995), xanchor="center", yanchor="middle",
                textangle=-90, font=dict(family=SANS, size=31, color="black")))
ann.append(dict(text="time (min)", x=px(640), y=py(1603), xanchor="center", yanchor="middle",
                font=dict(family=NARROW, size=34, color="black")))
ann.append(dict(text="time (min)", x=px(1800), y=py(1603), xanchor="center", yanchor="middle",
                font=dict(family=NARROW, size=34, color="black")))
for a in ann:
    a.update(xref="paper", yref="paper", showarrow=False)
layout["annotations"] = ann

fig.update_layout(**layout)
fig.write_html(
    "out.html",
    config={"displayModeBar": False, "staticPlot": True},
    post_script="document.body.style.margin='0';document.documentElement.style.overflow='hidden';",
)
